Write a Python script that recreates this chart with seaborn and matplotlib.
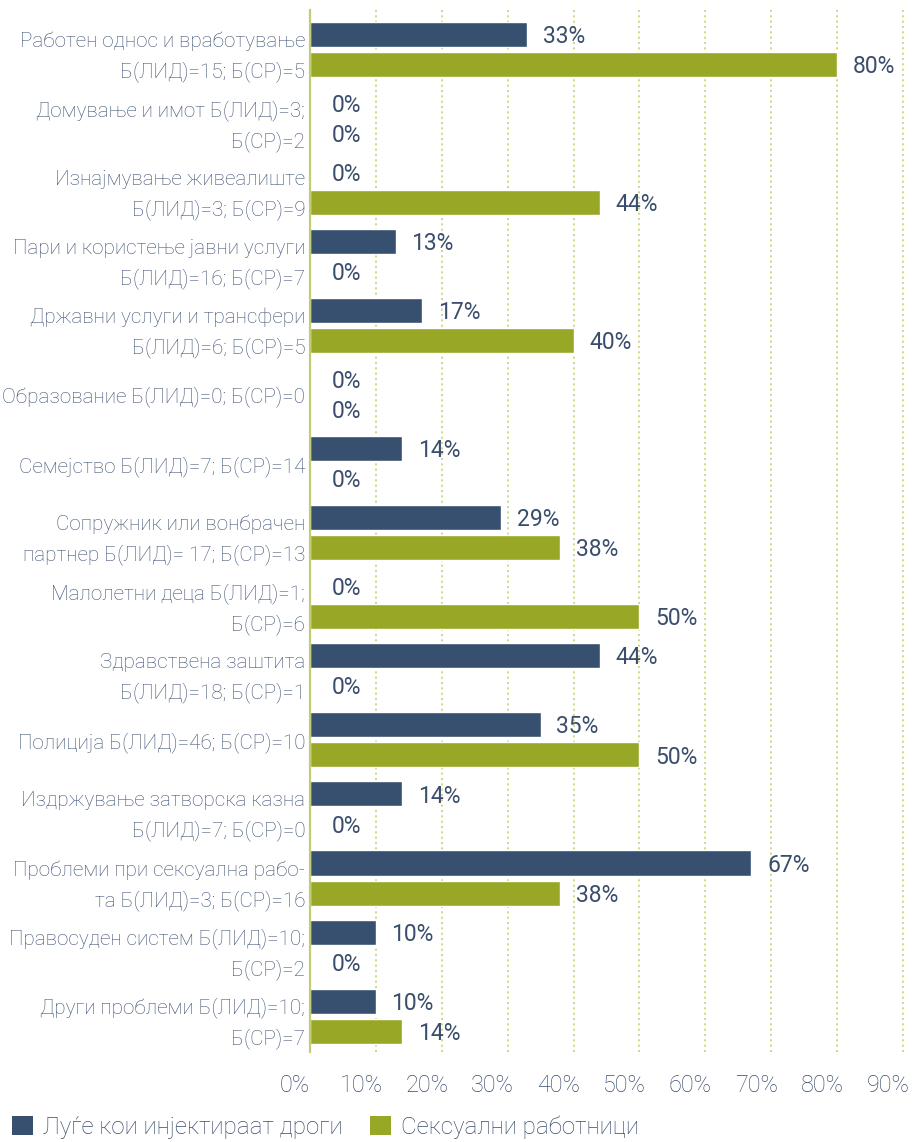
import matplotlib
matplotlib.use("Agg")
import matplotlib.pyplot as plt
import matplotlib.transforms as mtransforms
from matplotlib.patches import Patch
import pandas as pd
import seaborn as sns

# Categories (y axis), two-line labels as printed
categories = [
    "Работен однос и вработување\nБ(ЛИД)=15; Б(СР)=5",
    "Домување и имот Б(ЛИД)=3;\nБ(СР)=2",
    "Изнајмување живеалиште\nБ(ЛИД)=3; Б(СР)=9",
    "Пари и користење јавни услуги\nБ(ЛИД)=16; Б(СР)=7",
    "Државни услуги и трансфери\nБ(ЛИД)=6; Б(СР)=5",
    "Образование Б(ЛИД)=0; Б(СР)=0",
    "Семејство Б(ЛИД)=7; Б(СР)=14",
    "Сопружник или вонбрачен\nпартнер Б(ЛИД)= 17; Б(СР)=13",
    "Малолетни деца Б(ЛИД)=1;\nБ(СР)=6",
    "Здравствена заштита\nБ(ЛИД)=18; Б(СР)=1",
    "Полиција Б(ЛИД)=46; Б(СР)=10",
    "Издржување затворска казна\nБ(ЛИД)=7; Б(СР)=0",
    "Проблеми при сексуална рабо-\nта Б(ЛИД)=3; Б(СР)=16",
    "Правосуден систем Б(ЛИД)=10;\nБ(СР)=2",
    "Други проблеми Б(ЛИД)=10;\nБ(СР)=7",
]

series_names = ["Луѓе кои инјектираат дроги", "Сексуални работници"]

# Shares (in percent) per category
pwid = [33, 0, 0, 13, 17, 0, 14, 29, 0, 44, 35, 14, 67, 10, 10]
sex_workers = [80, 0, 44, 0, 40, 0, 0, 38, 50, 0, 50, 0, 38, 0, 14]

x_ticks = [0, 10, 20, 30, 40, 50, 60, 70, 80, 90]
x_tick_labels = ["0%", "10%", "20%", "30%", "40%", "50%", "60%", "70%", "80%", "90%"]

NAVY = "#37506f"
OLIVE = "#98a826"
TEXT = "#3a4d6c"
LABEL_TEXT = "#3e5173"
GRID = "#c6d16e"

df = pd.DataFrame({
    "category": categories * 2,
    "value": pwid + sex_workers,
    "group": [series_names[0]] * len(categories) + [series_names[1]] * len(categories),
})

sns.set_theme(style="white")
plt.rcParams["font.family"] = ["Roboto", "DejaVu Sans"]

W, H = 915, 1142
fig = plt.figure(figsize=(W / 100, H / 100), dpi=100)
x0, x1 = 310, 906.3
y_top, y_bot = 10, 1052
ax = fig.add_axes([x0 / W, 1 - y_bot / H, (x1 - x0) / W, (y_bot - y_top) / H])

sns.barplot(
    data=df, x="value", y="category", hue="group", orient="h",
    palette=[NAVY, OLIVE], width=0.87, gap=0.167, ax=ax,
    legend=False, saturation=1,
)

ax.set_xlim(0, 90.5)
ax.set_ylim(14.52, -0.572)
ax.set_xlabel("")
ax.set_ylabel("")

# Dotted vertical gridlines
ax.set_xticks(x_ticks)
ax.set_xticklabels(x_tick_labels)
for t in x_ticks[1:]:
    ax.axvline(t, color=GRID, lw=1.2, ls=(0, (1.2, 2.0)), zorder=0)

for side in ["top", "right", "bottom"]:
    ax.spines[side].set_visible(False)
ax.spines["left"].set_color("#c3cb78")
ax.spines["left"].set_linewidth(1.6)

ax.tick_params(axis="y", length=0, pad=3.5, labelsize=14.9, labelcolor=LABEL_TEXT)
ax.tick_params(axis="x", length=0, pad=16, labelsize=16.8, labelcolor=TEXT)
for lbl in ax.get_yticklabels():
    lbl.set_linespacing(1.62)
    lbl.set_fontweight("light")
shift = mtransforms.ScaledTranslation(-15 / 100, 0, fig.dpi_scale_trans)
for lbl in ax.get_xticklabels():
    lbl.set_transform(lbl.get_transform() + shift)
    lbl.set_fontweight("light")

# Value labels next to bar ends
for container, values in zip(ax.containers, [pwid, sex_workers]):
    for patch, v in zip(container.patches, values):
        yc = patch.get_y() + patch.get_height() / 2
        ax.annotate(f"{v}%", xy=(v, yc), xytext=(26.5, -1.5),
                    textcoords="offset points", ha="center", va="center",
                    fontsize=16.5, fontweight="normal", color=TEXT)

handles = [Patch(facecolor=NAVY, edgecolor="none"), Patch(facecolor=OLIVE, edgecolor="none")]
leg = fig.legend(handles, series_names, loc="center left",
                 bbox_to_anchor=(12 / W, 1 - 1127 / H), ncol=2, frameon=False,
                 fontsize=17.4, labelcolor=TEXT, handlelength=0.85, handleheight=0.85,
                 handletextpad=0.42, columnspacing=1.15, borderaxespad=0, borderpad=0)
for t in leg.get_texts():
    t.set_fontweight("light")

fig.savefig("out.png", dpi=100)
